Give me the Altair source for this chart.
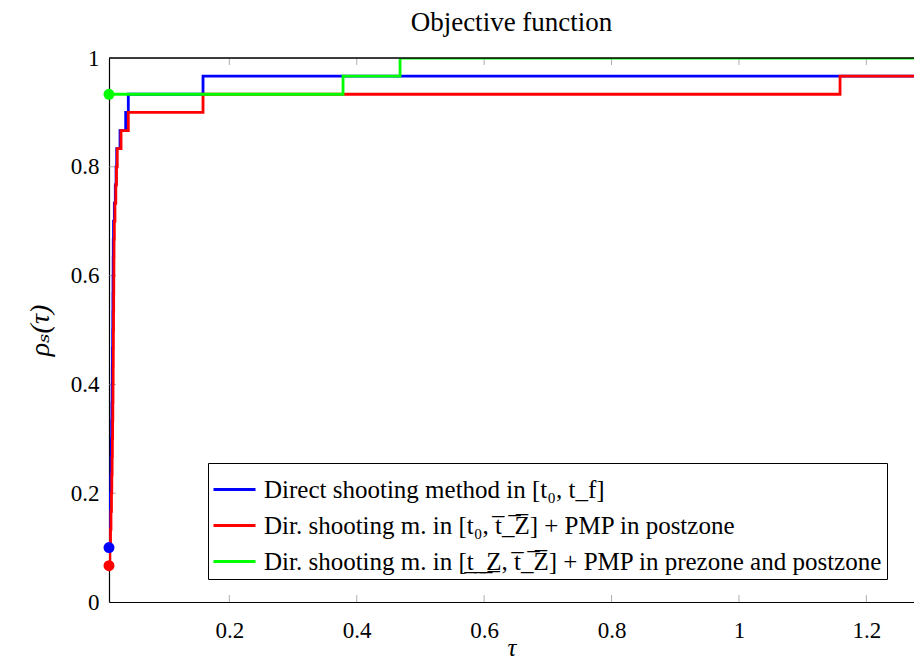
import altair as alt
import pandas as pd

TOTAL = 30
tau_first = 0.0111
tau_last = 1.32

methods = [
    "Direct shooting method in [t₀, t_f]",
    "Dir. shooting m. in [t₀, t̅_̅Z̅] + PMP in postzone",
    "Dir. shooting m. in [t̲_̲Z̲, t̅_̅Z̅] + PMP in prezone and postzone",
]
colors = ["#0000ff", "#ff0000", "#00ff00"]

# (tau, number of problems solved) for each method
blue_tau = [0.0111, 0.0116, 0.0122, 0.0130, 0.0138, 0.0143, 0.0147, 0.0152, 0.0156,
            0.0160, 0.0163, 0.0165, 0.0168, 0.0170, 0.0172, 0.0174, 0.0176, 0.0178,
            0.0182, 0.0195, 0.0210, 0.0222, 0.0232, 0.0284, 0.0373, 0.0414, 0.1587]
blue_cnt = [3, 4, 5, 6, 7, 8, 9, 10, 11, 12, 13, 14, 15, 16, 17, 18, 19, 20,
            21, 22, 23, 24, 25, 26, 27, 28, 29]

red_tau = [0.0111, 0.0125, 0.0135, 0.0142, 0.0150, 0.0155, 0.0160, 0.0164, 0.0168,
           0.0171, 0.0174, 0.0176, 0.0178, 0.0180, 0.0182, 0.0184, 0.0186, 0.0188,
           0.0190, 0.0195, 0.0205, 0.0218, 0.0228, 0.0240, 0.0300, 0.0414, 0.1587, 1.1587]
red_cnt = [2, 3, 4, 5, 6, 7, 8, 9, 10, 11, 12, 13, 14, 15, 16, 17, 18, 19,
           20, 21, 22, 23, 24, 25, 26, 27, 28, 29]

green_tau = [0.0111, 0.3785, 0.4680]
green_cnt = [28, 29, 30]

x_ticks = [0.2, 0.4, 0.6, 0.8, 1.0, 1.2]
y_ticks = [0, 0.2, 0.4, 0.6, 0.8, 1.0]

rows = []
for m, taus, cnts in zip(methods, [blue_tau, red_tau, green_tau], [blue_cnt, red_cnt, green_cnt]):
    for t, c in zip(taus, cnts):
        rows.append({"method": m, "tau": t, "rho": c / TOTAL})
    rows.append({"method": m, "tau": tau_last, "rho": cnts[-1] / TOTAL})
df = pd.DataFrame(rows)

starts = pd.DataFrame({
    "method": methods,
    "tau": [blue_tau[0], red_tau[0], green_tau[0]],
    "rho": [blue_cnt[0] / TOTAL, red_cnt[0] / TOTAL, green_cnt[0] / TOTAL],
})

W, H = 805, 544
FONT = "Liberation Serif, DejaVu Serif, serif"

xscale = alt.Scale(domain=[0.0111, 1.2748], nice=False, zero=False)
yscale = alt.Scale(domain=[0, 1], nice=False)
cscale = alt.Scale(domain=methods, range=colors)

lines = alt.Chart(df).mark_line(interpolate="step-after", strokeWidth=2.8, clip=True).encode(
    x=alt.X("tau:Q", scale=xscale,
            axis=alt.Axis(values=x_ticks, format="~g", grid=False, ticks=False,
                          domainColor="black", domainWidth=1.2,
                          labelFont=FONT, labelFontSize=23, labelColor="black", labelPadding=17,
                          title="τ", titleFont=FONT, titleFontSize=25, titleFontWeight="normal",
                          titleFontStyle="italic", titleColor="black",
                          titleBaseline="alphabetic", titleY=53)),
    y=alt.Y("rho:Q", scale=yscale,
            axis=alt.Axis(values=y_ticks, format="~g", grid=False, ticks=False,
                          domainColor="black", domainWidth=1.2,
                          labelFont=FONT, labelFontSize=23, labelColor="black", labelPadding=10,
                          title="ρₛ(τ)", titleFont=FONT, titleFontSize=28, titleFontWeight="normal",
                          titleFontStyle="italic", titleColor="black", titlePadding=16)),
    color=alt.Color("method:N", scale=cscale, sort=methods,
                    legend=alt.Legend(title=None, orient="none", legendX=99, legendY=405,
                                      strokeColor="black", fillColor="white", padding=4,
                                      symbolType="stroke", symbolSize=1764, symbolStrokeWidth=3,
                                      labelFont=FONT, labelFontSize=25, labelColor="black",
                                      labelOffset=7, rowPadding=0, labelLimit=900)),
    order=alt.Order("tau:Q"),
)

points = alt.Chart(starts).mark_circle(size=120, opacity=1, clip=False).encode(
    x=alt.X("tau:Q", scale=xscale),
    y=alt.Y("rho:Q", scale=yscale),
    color=alt.Color("method:N", scale=cscale, legend=None),
)

top_rule = alt.Chart(pd.DataFrame({"v": [1.0]})).mark_rule(color="black", strokeWidth=1.4).encode(
    y=alt.Y("v:Q", scale=yscale)
)

xt = pd.DataFrame({"v": x_ticks})
yt = pd.DataFrame({"v": y_ticks[1:-1]})
tick_color = "#8c8c8c"
bottom_ticks = alt.Chart(xt).mark_tick(color=tick_color, size=7, thickness=1, orient="vertical").encode(
    x=alt.X("v:Q", scale=xscale), y=alt.value(H - 3.5))
top_ticks = alt.Chart(xt).mark_tick(color=tick_color, size=7, thickness=1, orient="vertical").encode(
    x=alt.X("v:Q", scale=xscale), y=alt.value(3.5))
left_ticks = alt.Chart(yt).mark_tick(color=tick_color, size=7, thickness=1, orient="horizontal").encode(
    y=alt.Y("v:Q", scale=yscale), x=alt.value(3.5))

chart = alt.layer(bottom_ticks, top_ticks, left_ticks, lines, top_rule, points).properties(
    width=W, height=H,
    title=alt.Title("Objective function", font=FONT, fontSize=27, fontWeight="normal",
                    color="black", offset=10, anchor="middle"),
    autosize=alt.AutoSizeParams(type="none"),
    padding={"left": 101, "top": 50, "right": 0, "bottom": 58},
).configure_view(stroke=None).configure(background="white")

chart.save("out.html", embed_options={"renderer": "svg", "actions": False})
